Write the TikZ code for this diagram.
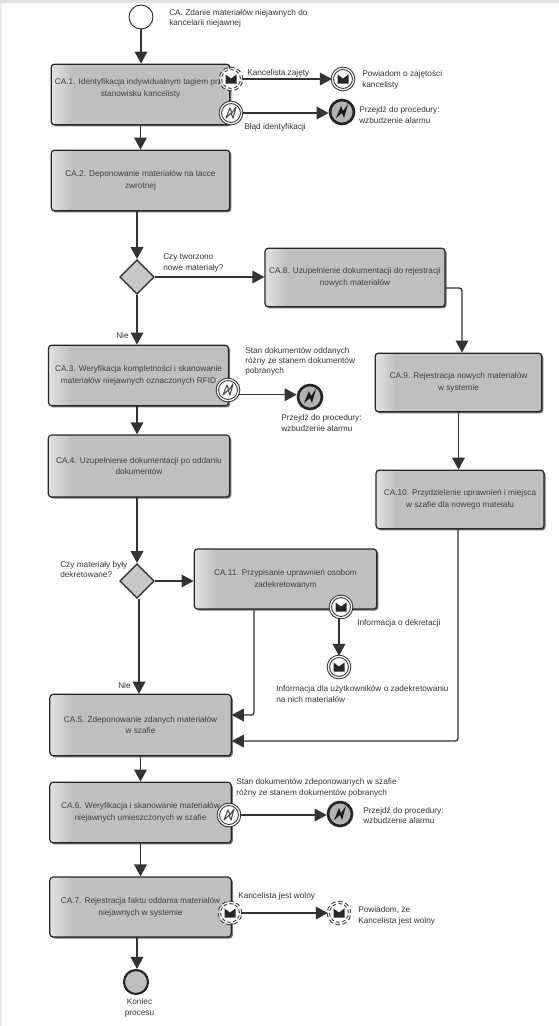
\documentclass[tikz,border=0pt]{standalone}
\usepackage{fontspec}
\setmainfont{Liberation Sans}
\usetikzlibrary{arrows.meta,calc,shapes.geometric,shadows}

\definecolor{taskgray}{gray}{0.75}
\pgfdeclarehorizontalshading{taskshade}{100bp}{color(0bp)=(white!55!taskgray); color(25bp)=(white!55!taskgray); color(31bp)=(taskgray); color(100bp)=(taskgray)}
\tikzset{
  task/.style={draw=black!85, line width=0.9pt, rounded corners=2.5pt, minimum width=#1, inner sep=0pt,
    shading=taskshade, shading angle=0, drop shadow={shadow xshift=1.2pt, shadow yshift=-1.2pt, fill=black!55, opacity=1},
    align=center, font=\fontsize{6.2}{8.8}\selectfont, text=black!75},
  gate/.style={diamond, draw=black!85, line width=0.9pt, fill=black!22, minimum width=26pt, minimum height=26pt, inner sep=0pt},
  evt/.style={circle, draw=black!85, fill=white, line width=0.7pt, minimum size=#1, inner sep=0pt},
  lbl/.style={align=left, anchor=west, inner sep=0pt, font=\fontsize{6.2}{8.8}\selectfont, text=black!80},
  flow/.style={draw=black!80, line width=1pt, rounded corners=2pt, -{Triangle[length=9pt,width=9.5pt]}}
}

% koperta i blyskawica
\newcommand{\envelope}[1]{\fill[black!85] ($(#1)+(-5.5,-4.5)$) -- ($(#1)+(0,-0.5)$) -- ($(#1)+(5.5,-4.5)$) -- ($(#1)+(5.5,4.5)$) -- ($(#1)+(-5.5,4.5)$) -- cycle;}
\newcommand{\bolt}[1]{\draw[black!70, line width=0.8pt, line join=round] ($(#1)+(-5,5)$) -- ($(#1)+(-1,-5)$) -- ($(#1)+(1,0)$) -- ($(#1)+(5,-6)$) -- ($(#1)+(2,5)$) -- ($(#1)+(0,0)$) -- cycle;}

\begin{document}
\begin{tikzpicture}[x=0.75pt,y=-0.75pt]
\useasboundingbox (0,0) rectangle (559,1026);
\fill[black!12] (0,0) rectangle (559,3);
\fill[black!8] (0,3) rectangle (2,1026);

\node[evt=18pt] (start) at (141,17) {};
\node[lbl] at (169,13) {CA. Zdanie materiałów niejawnych do};
\node[lbl] at (169,23) {kancelarii niejawnej};

% zadania
\node[task=134pt, minimum height=45.5pt] (ca1) at (140.5,94.5) {CA.1. Identyfikacja indywidualnym tagiem przy\\stanowisku kancelisty\\[2pt]};
\node[task=134pt, minimum height=45.5pt] (ca2) at (140.5,180.5) {CA.2. Deponowanie materiałów na tacce\\zwrotnej};
\node[gate] (g1) at (137,277) {};
\node[task=135pt, minimum height=44pt] (ca8) at (355,277.5) {CA.8. Uzupełnienie dokumentacji do rejestracji\\nowych materiałów};
\node[task=135pt, minimum height=45.5pt] (ca3) at (138.5,375.5) {CA.3. Weryfikacja kompletności i skanowanie\\materiałów niejawnych oznaczonych RFID};
\node[task=125pt, minimum height=44pt] (ca9) at (458.5,382.5) {CA.9. Rejestracja nowych materiałów\\w systemie};
\node[task=136pt, minimum height=46.5pt] (ca4) at (139,466) {CA.4. Uzupełnienie dokumentacji po oddaniu\\dokumentów};
\node[task=126pt, minimum height=44pt] (ca10) at (460,499.5) {CA.10. Przydzielenie uprawnień i miejsca\\w szafie dla nowego mateiału};
\node[gate] (g2) at (137,581) {};
\node[task=137pt, minimum height=45pt] (ca11) at (285.5,579) {CA.11. Przypisanie uprawnień osobom\\zadekretowanym};
\node[task=136pt, minimum height=46pt] (ca5) at (140.5,725) {CA.5. Zdeponowanie zdanych materiałów\\w szafie};
\node[task=136pt, minimum height=45.5pt] (ca6) at (140.5,812.5) {CA.6. Weryfikacja i skanowanie materiałów\\niejawnych umieszczonych w szafie};
\node[task=136pt, minimum height=45pt] (ca7) at (140.5,907) {CA.7. Rejestracja faktu oddania materiałów\\niejawnych w systemie};
\node[circle, draw=black!85, line width=1.6pt, fill=black!25, minimum size=18pt, inner sep=0pt] (stop) at (136,982) {};
\node[align=center, inner sep=0pt, font=\fontsize{6.2}{8.2}\selectfont, text=black!80] at (139.5,1007.5) {Koniec\\procesu};

% zdarzenia
\node[evt=16pt, densely dashed, double, double distance=1pt] (busy) at (231,79) {};
\node[evt=16pt, double, double distance=1pt] (err1) at (231,113) {};
\node[evt=16pt, double, double distance=1pt] (busyend) at (343,79) {};
\node[evt=18pt, line width=2pt, fill=black!30] (err1end) at (342,112) {};
\node[evt=16pt, double, double distance=1pt] (err3) at (228,390) {};
\node[evt=18pt, line width=2pt, fill=black!30] (err3end) at (310,397) {};
\node[evt=16pt, double, double distance=1pt] (info) at (341,607) {};
\node[evt=16pt, double, double distance=1pt] (infoend) at (339,667) {};
\node[evt=16pt, double, double distance=1pt] (err6) at (229,815) {};
\node[evt=18pt, line width=2pt, fill=black!30] (err6end) at (340,814) {};
\node[evt=16pt, densely dashed, double, double distance=1pt] (free) at (230,913) {};
\node[evt=16pt, densely dashed, double, double distance=1pt] (freeend) at (339,913) {};

\foreach \n in {busy,busyend,info,infoend,free,freeend} {\envelope{\n}}
\foreach \n in {err1,err3,err6} {\bolt{\n}}
\foreach \n in {err1end,err3end,err6end} {\fill[black!90] ($(\n)+(-6,6)$) -- ($(\n)+(-1,-6)$) -- ($(\n)+(1,-1)$) -- ($(\n)+(6,-8)$) -- ($(\n)+(2,6)$) -- ($(\n)+(0,1)$) -- cycle;}

% polaczenia
\draw[flow] (start) -- (start |- ca1.north);
\draw[flow] (ca1.south) -- (ca2.north);
\draw[flow] (g1 |- ca2.south) -- (g1);
\draw[flow] (g1) -- (ca8.west |- g1);
\draw[flow] (g1) -- (g1 |- ca3.north);
\draw[flow] (ca8.east |- 0,288) -| (ca9.north -| 462,0);
\draw[flow] (ca9) -- (ca9 |- ca10.north);
\draw[flow] (g1 |- ca3.south) -- (g1 |- ca4.north);
\draw[flow] (g1 |- ca4.south) -- (g2);
\draw[flow] (g2) -- (ca11.west |- g2);
\draw[flow] (g2.south -| 139,0) -- (ca5.north -| 139,0);
\draw[flow] (ca5) -- (ca5 |- ca6.north);
\draw[flow] (ca6) -- (ca6 |- ca7.north);
\draw[flow] (ca7.south -| 137,0) -- (stop.north -| 137,0);
\draw[flow] (busy) -- (busyend);
\draw[flow] (err1) -- (err1end.west |- err1);
\draw[flow] (err3.-25) -- (err3end.west |- err3.-25);
\draw[flow] (err6) -- (err6end.west |- err6);
\draw[flow] (free) -- (freeend);
\draw[flow] (info.south -| infoend) -- (infoend);
\draw[flow] (ca10.south -| 458,0) |- (ca5.east |- 0,741);
\draw[flow] (ca11.south -| 254,0) |- (ca5.east |- 0,715);

% opisy
\node[lbl] at (247,73) {Kancelista zajęty};
\node[lbl] at (244,127) {Błąd identyfikacji};
\node[lbl] at (362,74) {Powiadom o zajętości};
\node[lbl] at (362,85) {kancelisty};
\node[lbl] at (359,110) {Przejdź do procedury:};
\node[lbl] at (359,121) {wzbudzenie alarmu};
\node[lbl] at (163,257) {Czy tworzono};
\node[lbl] at (163,268) {nowe materiały?};
\node[lbl] at (116,336) {Nie};
\node[lbl] at (245,351) {Stan dokumentów oddanych};
\node[lbl] at (245,361) {różny ze stanem dokumentów};
\node[lbl] at (245,371) {pobranych};
\node[lbl] at (281,418) {Przejdź do procedury:};
\node[lbl] at (281,429) {wzbudzenie alarmu};
\node[lbl] at (60,565) {Czy materiały były};
\node[lbl] at (60,575) {dekretowane?};
\node[lbl] at (118,686) {Nie};
\node[lbl] at (357,623) {Informacja o dekretacji};
\node[lbl] at (276,689) {Informacja dla użytkowników o zadekretowaniu};
\node[lbl] at (276,699) {na nich materiałów};
\node[lbl] at (236,782) {Stan dokumentów zdeponowanych w szafie};
\node[lbl] at (236,793) {różny ze stanem dokumentów pobranych};
\node[lbl] at (363,811) {Przejdź do procedury:};
\node[lbl] at (363,821) {wzbudzenie alarmu};
\node[lbl] at (238,896) {Kancelista jest wolny};
\node[lbl] at (358,910) {Powiadom, że};
\node[lbl] at (358,921) {Kancelista jest wolny};
\end{tikzpicture}
\end{document}
